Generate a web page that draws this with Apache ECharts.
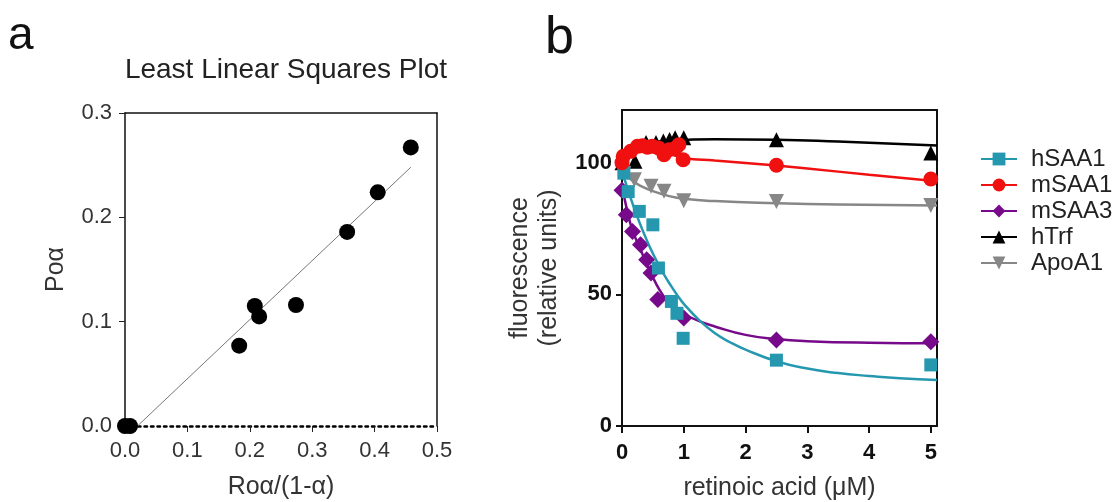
<!DOCTYPE html>
<html>
<head>
<meta charset="utf-8">
<script src="https://cdn.jsdelivr.net/npm/echarts@6/dist/echarts.min.js"></script>
</head>
<body style="margin:0;background:#fff">
<div id="main" style="width:1118px;height:502px"></div>
<script>
// panel a: least squares plot
var aX = [0, 0.008, 0.183, 0.208, 0.215, 0.274, 0.356, 0.405, 0.458];
var aY = [0, 0, 0.077, 0.115, 0.105, 0.116, 0.186, 0.224, 0.267];
var aFitX = [0.02, 0.458];
var aFitY = [0, 0.248];
var xTicksA = [0, 0.1, 0.2, 0.3, 0.4, 0.5];
var yTicksA = [0, 0.1, 0.2, 0.3];

// panel b: measured points
var hSAA1X = [0.03, 0.1, 0.28, 0.5, 0.59, 0.8, 0.89, 0.99, 2.5, 5];
var hSAA1Y = [96, 89, 81.5, 76.4, 60, 47.3, 42.8, 33.3, 25, 23.2];
var mSAA1X = [0, 0.02, 0.14, 0.25, 0.33, 0.41, 0.49, 0.59, 0.68, 0.76, 0.87, 0.92, 0.99, 2.5, 5];
var mSAA1Y = [100, 102.4, 104.3, 106.2, 106.4, 105.9, 106.2, 105.6, 103, 104.9, 105.6, 106.8, 101.1, 99, 93.8];
var mSAA3X = [0, 0.07, 0.17, 0.3, 0.4, 0.47, 0.58, 1.0, 2.5, 5];
var mSAA3Y = [89.5, 80.2, 73.9, 68.8, 63.1, 58.1, 48, 41, 32.7, 32];
var hTrfX = [0, 0.21, 0.39, 0.55, 0.67, 0.77, 0.86, 1.0, 2.5, 5];
var hTrfY = [100, 100.5, 107.7, 107.7, 108.2, 108.8, 109.5, 109.5, 108.7, 103.7];
var apoX = [0.03, 0.2, 0.47, 0.68, 1.0, 2.5, 5];
var apoY = [96, 93.5, 91, 89.1, 85.5, 85.3, 83.7];

// panel b: fitted curves
var hSAA1FitX = [0, 0.1, 0.2, 0.3, 0.4, 0.5, 0.6, 0.7, 0.8, 0.9, 1, 1.25, 1.5, 1.75, 2, 2.5, 3, 3.5, 4, 4.5, 5.1];
var hSAA1FitY = [97, 89.4, 82.5, 76.3, 70.6, 65.5, 61, 56.7, 53, 49.5, 46.4, 40.2, 35.3, 31.8, 29, 24.6, 21.8, 20.1, 19, 18.1, 17.5];
var mSAA1FitX = [0, 0.1, 0.2, 0.3, 0.5, 0.75, 1, 1.5, 2, 2.5, 3, 4, 5.1];
var mSAA1FitY = [100, 103.5, 105.3, 105.8, 105, 103.5, 101.8, 100.8, 99.9, 98.9, 97.8, 95.4, 92.9];
var mSAA3FitX = [0, 0.1, 0.2, 0.3, 0.4, 0.5, 0.6, 0.7, 0.8, 0.9, 1, 1.25, 1.5, 2, 2.5, 3, 4, 5.1];
var mSAA3FitY = [92, 80, 72.5, 67, 61.5, 56.5, 52, 48.5, 46, 44, 42.5, 39.8, 37.8, 34.6, 33, 32.2, 31.6, 31.4];
var hTrfFitX = [0, 0.1, 0.2, 0.4, 0.6, 0.8, 1, 1.5, 2.5, 3.5, 4.5, 5.1];
var hTrfFitY = [100, 102, 104, 107, 108, 108.5, 108.7, 108.9, 108.7, 108, 107.1, 106.5];
var apoFitX = [0, 0.1, 0.2, 0.3, 0.5, 0.75, 1, 1.5, 2.5, 3.5, 5.1];
var apoFitY = [97, 94.5, 92.7, 91.2, 89.2, 87.4, 86.3, 85.4, 84.6, 84.1, 83.7];

var xTicksB = [0, 1, 2, 3, 4, 5];
var yTicksB = [0, 50, 100];
var names = ['hSAA1', 'mSAA1', 'mSAA3', 'hTrf', 'ApoA1'];

function zip(xs, ys) {
    return xs.map(function (x, i) { return [x, ys[i]]; });
}

var chart = echarts.init(document.getElementById('main'));

var frame = function (w) {
    return { show: true, onZero: false, lineStyle: { color: '#111', width: w } };
};

var font = 'Liberation Sans, Arial, sans-serif';

var option = {
    animation: false,
    textStyle: { fontFamily: font },
    title: [
        { text: 'a', left: 3, top: 8, textStyle: { fontSize: 46, fontWeight: 'normal', color: '#111' } },
        { text: 'b', left: 540, top: 8, textStyle: { fontSize: 52, fontWeight: 'normal', color: '#111' } },
        { text: 'Least Linear Squares Plot', left: 281, top: 51, textAlign: 'center',
          textStyle: { fontSize: 28, fontWeight: 'normal', color: '#222' } }
    ],
    legend: {
        orient: 'vertical',
        left: 975,
        top: 142,
        itemWidth: 36,
        itemHeight: 16,
        itemGap: 2,
        data: names,
        textStyle: { fontSize: 24, color: '#222', padding: [0, 0, 0, 9] }
    },
    grid: [
        { left: 125, top: 113, width: 312, height: 313, outerBoundsMode: 'none' },
        { left: 622, top: 110, width: 315, height: 316, outerBoundsMode: 'none' }
    ],
    xAxis: [
        {
            type: 'value', gridIndex: 0, min: 0, max: 0.5, interval: 0.1,
            axisLine: { show: true, onZero: false, lineStyle: { color: '#000', width: 2.5, type: [2.5, 4] } },
            axisTick: { show: true, length: 6, customValues: xTicksA, lineStyle: { color: '#222' } },
            axisLabel: { customValues: xTicksA, fontSize: 22, color: '#333', margin: 14,
                formatter: function (v) { return v.toFixed(1); } },
            splitLine: { show: false },
            name: 'Roα/(1-α)', nameLocation: 'middle', nameGap: 49,
            nameTextStyle: { fontSize: 25, color: '#333' }
        },
        {
            type: 'value', gridIndex: 0, position: 'top', min: 0, max: 0.5,
            axisLine: frame(1.5), axisTick: { show: false }, axisLabel: { show: false }, splitLine: { show: false }
        },
        {
            type: 'value', gridIndex: 1, min: 0, max: 5.1,
            axisLine: frame(2),
            axisTick: { show: true, length: 7, customValues: xTicksB, lineStyle: { color: '#111', width: 2 } },
            axisLabel: { customValues: xTicksB, fontSize: 22, fontWeight: 'bold', color: '#111', margin: 16 },
            splitLine: { show: false },
            name: 'retinoic acid (μM)', nameLocation: 'middle', nameGap: 50,
            nameTextStyle: { fontSize: 25, color: '#333' }
        },
        {
            type: 'value', gridIndex: 1, position: 'top', min: 0, max: 5.1,
            axisLine: frame(2), axisTick: { show: false }, axisLabel: { show: false }, splitLine: { show: false }
        }
    ],
    yAxis: [
        {
            type: 'value', gridIndex: 0, min: 0, max: 0.3, interval: 0.1,
            axisLine: frame(1.5),
            axisTick: { show: true, length: 6, customValues: yTicksA, lineStyle: { color: '#222' } },
            axisLabel: { customValues: yTicksA, fontSize: 22, color: '#333', margin: 13,
                formatter: function (v) { return v.toFixed(1); } },
            splitLine: { show: false },
            name: 'Poα', nameLocation: 'middle', nameGap: 56,
            nameTextStyle: { fontSize: 25, color: '#333' }
        },
        {
            type: 'value', gridIndex: 0, position: 'right', min: 0, max: 0.3,
            axisLine: frame(1.5), axisTick: { show: false }, axisLabel: { show: false }, splitLine: { show: false }
        },
        {
            type: 'value', gridIndex: 1, min: 0, max: 120, interval: 50,
            axisLine: frame(2),
            axisTick: { show: true, length: 6, customValues: yTicksB, lineStyle: { color: '#111', width: 2 } },
            axisLabel: { customValues: yTicksB, fontSize: 22, fontWeight: 'bold', color: '#111', margin: 10 },
            splitLine: { show: false },
            name: 'fluorescence\n(relative units)', nameLocation: 'middle', nameGap: 58,
            nameTextStyle: { fontSize: 25, color: '#333', lineHeight: 29 }
        },
        {
            type: 'value', gridIndex: 1, position: 'right', min: 0, max: 120,
            axisLine: frame(2), axisTick: { show: false }, axisLabel: { show: false }, splitLine: { show: false }
        }
    ],
    series: []
};

// panel a series
option.series.push({
    type: 'line', xAxisIndex: 0, yAxisIndex: 0, data: zip(aFitX, aFitY),
    showSymbol: false, lineStyle: { color: '#777', width: 1 }, z: 2
});
option.series.push({
    type: 'scatter', xAxisIndex: 0, yAxisIndex: 0, data: zip(aX, aY),
    symbol: 'circle', symbolSize: 16, itemStyle: { color: '#000', opacity: 1 }, z: 3
});

// panel b series, drawn back to front
var groups = [
    { name: 'hTrf', color: '#000000', symbol: 'triangle', rot: 0, size: 15, px: hTrfX, py: hTrfY, fx: hTrfFitX, fy: hTrfFitY },
    { name: 'ApoA1', color: '#878787', symbol: 'triangle', rot: 180, size: 15, px: apoX, py: apoY, fx: apoFitX, fy: apoFitY },
    { name: 'mSAA3', color: '#770a8a', symbol: 'diamond', rot: 0, size: 17, px: mSAA3X, py: mSAA3Y, fx: mSAA3FitX, fy: mSAA3FitY },
    { name: 'hSAA1', color: '#2598b0', symbol: 'rect', rot: 0, size: 13, px: hSAA1X, py: hSAA1Y, fx: hSAA1FitX, fy: hSAA1FitY },
    { name: 'mSAA1', color: '#f01010', symbol: 'circle', rot: 0, size: 15, px: mSAA1X, py: mSAA1Y, fx: mSAA1FitX, fy: mSAA1FitY }
];

groups.forEach(function (g, i) {
    option.series.push({
        name: g.name, type: 'line', xAxisIndex: 2, yAxisIndex: 2,
        data: zip(g.fx, g.fy), smooth: true, showSymbol: false,
        symbol: g.symbol, symbolRotate: g.rot,
        lineStyle: { color: g.color, width: 2.5 }, itemStyle: { color: g.color },
        z: 2 + i
    });
    option.series.push({
        name: g.name + ' data', type: 'scatter', xAxisIndex: 2, yAxisIndex: 2,
        data: zip(g.px, g.py), symbol: g.symbol, symbolRotate: g.rot, symbolSize: g.size,
        itemStyle: { color: g.color, opacity: 1 }, z: 2 + i
    });
});

chart.setOption(option);
</script>
</body>
</html>
